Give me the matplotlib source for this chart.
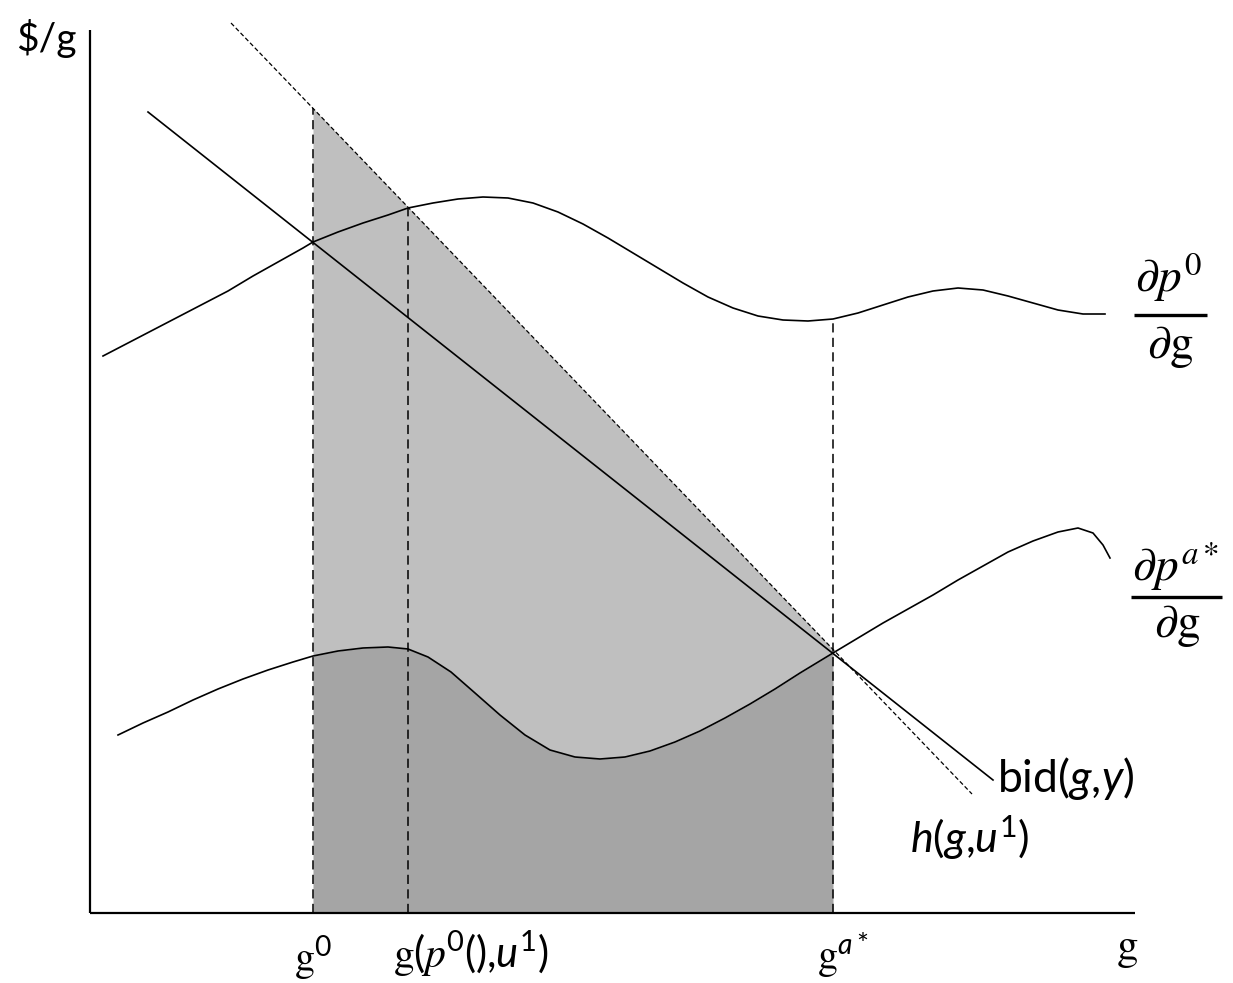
import numpy as np
import matplotlib
matplotlib.use("Agg")
import matplotlib.pyplot as plt

plt.rcParams['font.family'] = ['Lato', 'DejaVu Sans']
plt.rcParams['mathtext.fontset'] = 'custom'
plt.rcParams['mathtext.rm'] = 'Lato'
plt.rcParams['mathtext.it'] = 'Lato:italic'
plt.rcParams['mathtext.sf'] = 'STIXGeneral'
plt.rcParams['mathtext.cal'] = 'STIXGeneral:italic'

# ---- data (units: distance from the axis origin) ----
dp0_x = [13, 38, 63, 88, 113, 138, 163, 188, 213, 223, 248, 273, 298, 318, 343, 368, 393, 418,
         443, 468, 493, 518, 543, 568, 593, 618, 643, 668, 693, 718, 743, 768, 793, 818, 843,
         868, 893, 918, 943, 968, 993, 1015]
dp0_y = [557, 570, 583, 596, 609, 622, 637, 651, 665, 671, 681, 690, 698, 705, 710, 714, 716, 715,
         710, 701, 689, 675, 660, 645, 630, 616, 605, 597, 593, 592, 594, 600, 608, 616, 622,
         625, 623, 617, 610, 603, 599, 599]

dpa_x = [28, 53, 78, 103, 128, 153, 178, 203, 223, 248, 273, 298, 318, 338, 361, 385, 410, 435,
         460, 485, 510, 535, 560, 585, 610, 635, 660, 685, 710, 743, 768, 793, 818, 843, 868,
         893, 918, 943, 968, 988, 1003, 1013, 1020]
dpa_y = [178, 190, 201, 213, 224, 234, 243, 251, 257, 262, 265, 266, 264, 256, 241, 220, 198, 178,
         163, 156, 154, 156, 162, 171, 182, 195, 209, 224, 240, 260, 275, 290, 304, 318, 333,
         347, 361, 372, 381, 385, 380, 368, 355]

h_x = [141, 882]
h_y = [890, 119]
bid_x = [58, 903]
bid_y = [801, 133]

g0 = 223
g1 = 318
ga = 743

x_axis_end = 1045
y_axis_end = 883

# ---- figure ----
fig = plt.figure(figsize=(12.33, 9.83), dpi=100)
ax = fig.add_axes([0, 0, 1, 1])
ax.set_xlim(-90, 1143)
ax.set_ylim(-70, 913)
ax.axis('off')

dpa_x_arr = np.array(dpa_x, dtype=float)
dpa_y_arr = np.array(dpa_y, dtype=float)
m = (dpa_x_arr >= g0) & (dpa_x_arr <= ga)
fx = dpa_x_arr[m]
f_low = dpa_y_arr[m]
f_top = np.interp(fx, h_x, h_y)
ax.fill_between(fx, f_low, f_top, color='#bfbfbf', lw=0, zorder=1)
ax.fill_between(fx, 0, f_low, color='#a5a5a5', lw=0, zorder=1)

# axes lines
ax.plot([0, 0], [0, y_axis_end], color='black', lw=1.6, solid_capstyle='butt', zorder=5)
ax.plot([0, x_axis_end], [0, 0], color='black', lw=1.6, solid_capstyle='butt', zorder=5)

# curves
ax.plot(dp0_x, dp0_y, color='black', lw=1.2, zorder=4, solid_joinstyle='round')
ax.plot(dpa_x, dpa_y, color='black', lw=1.2, zorder=4, solid_joinstyle='round')
ax.plot(bid_x, bid_y, color='black', lw=1.2, zorder=4)
ax.plot(h_x, h_y, color='black', lw=0.9, ls=(0, (3.5, 2)), zorder=4)

# vertical dashed lines
vd = dict(color='black', lw=1.1, ls=(0, (6, 3.5)), zorder=3)
ax.plot([g0, g0], [0, np.interp(g0, h_x, h_y)], **vd)
ax.plot([g1, g1], [0, np.interp(g1, dp0_x, dp0_y)], **vd)
ax.plot([ga, ga], [0, np.interp(ga, dp0_x, dp0_y)], **vd)

# texts
ax.text(-44, 874, '$/g', fontsize=28, ha='center', va='center')

# fraction labels (numerator, bar, denominator)
ax.text(1078, 636, r'$\partial p^{0}$', fontsize=34, ha='center', va='center',
        math_fontfamily='stix')
ax.plot([1044, 1117], [598, 598], color='black', lw=2.4, solid_capstyle='butt')
ax.text(1080, 566, r'$\partial \mathrm{g}$', fontsize=34, ha='center', va='center',
        math_fontfamily='stix')

ax.text(1085, 347, r'$\partial p^{a*}$', fontsize=34, ha='center', va='center',
        math_fontfamily='stix')
ax.plot([1041, 1132], [316, 316], color='black', lw=2.4, solid_capstyle='butt')
ax.text(1087, 287, r'$\partial \mathrm{g}$', fontsize=34, ha='center', va='center',
        math_fontfamily='stix')

ax.text(907, 135, r'bid($\mathit{g{,}y}$)', fontsize=32, ha='left', va='center')
ax.text(820, 75, r'$h$($\mathit{g{,}u}^{\mathrm{1}}$)', fontsize=31, ha='left', va='center')

ax.text(g0, -45, r'$\mathsf{g}^{0}$', fontsize=29, ha='center', va='center')
ax.text(381, -41, r'$\mathsf{g}(\mathcal{p}^{0}(){,}\mathit{u}^{1})$', fontsize=30,
        ha='center', va='center')
ax.text(ga + 10, -43, r'$\mathsf{g}^{a*}$', fontsize=29, ha='center', va='center')
ax.text(1037, -38, r'$\mathsf{g}$', fontsize=31, ha='center', va='center')

fig.savefig('out.png', dpi=100)
